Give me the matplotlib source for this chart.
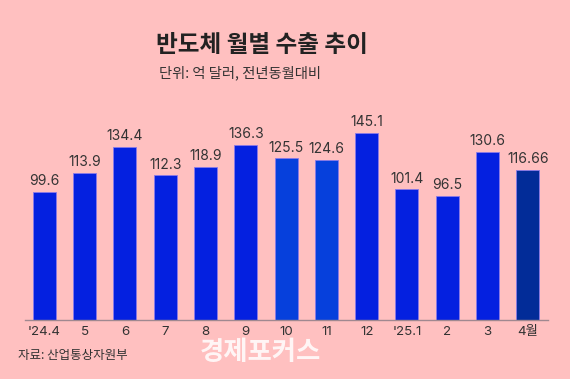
import matplotlib.pyplot as plt

plt.rcParams['font.family'] = ['Noto Sans CJK KR', 'DejaVu Sans']
num_font = ['Inter', 'Noto Sans CJK KR']

months = ["'24.4", '5', '6', '7', '8', '9', '10', '11', '12', "'25.1", '2', '3', '4월']
exports = [99.6, 113.9, 134.4, 112.3, 118.9, 136.3, 125.5, 124.6, 145.1, 101.4, 96.5, 130.6, 116.66]
labels = ['99.6', '113.9', '134.4', '112.3', '118.9', '136.3', '125.5', '124.6', '145.1',
          '101.4', '96.5', '130.6', '116.66']
colors = ['#0420e0'] * 6 + ['#0640dc', '#0640dc'] + ['#0420e0'] * 4 + ['#022c98']

bg = '#ffc0c0'
fig = plt.figure(figsize=(5.7, 3.79), dpi=100, facecolor=bg)
ax = fig.add_axes([25 / 570, 59 / 379, 523 / 570, 206 / 379])
ax.set_facecolor(bg)

x = range(len(months))
ax.bar(x, exports, width=0.57, color=colors, edgecolor='#8a7ae8', linewidth=0.6, zorder=2)
for i, v in enumerate(exports):
    ax.text(i, v + 3, labels[i], ha='center', va='bottom', fontsize=10,
            color='#333333', family=num_font)

ax.set_xlim(-0.48, 12.5)
ax.set_ylim(0, 160)
ax.set_xticks(list(x))
ax.set_xticklabels(months, fontsize=9.6, color='#333333', family=num_font)
ax.tick_params(axis='x', length=0, pad=4)
ax.set_yticks([])
for s in ['top', 'right', 'left']:
    ax.spines[s].set_visible(False)
ax.spines['bottom'].set_color('#a08890')
ax.spines['bottom'].set_linewidth(1)

fig.text(262 / 570, 1 - 45 / 379, '반도체 월별 수출 추이', ha='center', va='center',
         fontsize=17, fontweight='bold', color='#222222')
fig.text(159 / 570, 1 - 73 / 379, '단위: 억 달러, 전년동월대비', ha='left', va='center',
         fontsize=10.3, color='#333333')
fig.text(18 / 570, 1 - 355 / 379, '자료: 산업통상자원부', ha='left', va='center',
         fontsize=9, color='#333333')
fig.text(200 / 570, 1 - 352 / 379, '경제포커스', ha='left', va='center',
         fontsize=19, fontweight='bold', color='white', alpha=0.85)

fig.savefig('out.png', dpi=100, facecolor=bg)
